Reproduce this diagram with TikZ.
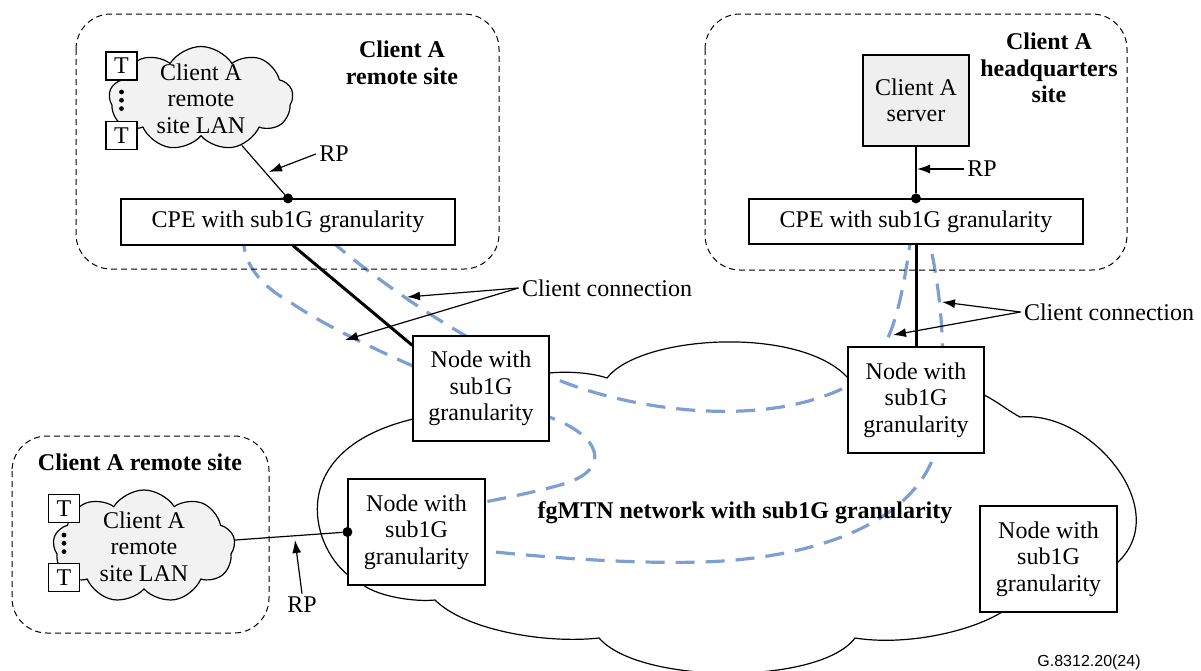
\documentclass[tikz,border=0pt]{standalone}
\usepackage{fontspec}
\setmainfont{Liberation Serif}
\newfontfamily\figidfont{Liberation Sans}
\usetikzlibrary{shapes.symbols,arrows.meta}
\definecolor{connblue}{RGB}{127,158,210}
\definecolor{langray}{RGB}{242,242,242}
\definecolor{servergray}{RGB}{239,239,239}
\newcommand\bodysize{\fontsize{24}{26.5}\selectfont}
\pgfdeclarelayer{background}
\pgfsetlayers{background,main}

\begin{document}
\begin{tikzpicture}[x=1pt,y=-1pt,
    every node/.style={font=\bodysize},
    box/.style={draw,fill=white,line width=1.2pt,align=center,inner sep=0pt},
    lan/.style={cloud,cloud puffs=9,cloud puff arc=115,cloud ignores aspect,draw,fill=langray,line width=1.2pt,inner sep=0pt},
    tbox/.style={draw,fill=white,line width=1.2pt,inner sep=0pt,minimum width=31pt,minimum height=28pt},
    rpdot/.style={circle,fill=black,inner sep=0pt,minimum size=10pt},
    sitetitle/.style={font=\bodysize\bfseries,align=center},
    siteframe/.style={draw,line width=1pt,dash pattern=on 6pt off 4pt,rounded corners=35pt},
    conn/.style={draw=connblue,line width=3.2pt,dash pattern=on 19pt off 11pt},
    pointer/.style={-{Latex[length=13pt,width=9pt]},line width=1.2pt},
    trunk/.style={line width=3pt}]
  \useasboundingbox (0,0) rectangle (1201,670);

  % sites
  \draw[siteframe] (76,14) rectangle (499,269);
  \draw[siteframe] (705,14) rectangle (1127,270);
  \draw[siteframe] (12,436) rectangle (269,633);
  \node[sitetitle] (ttl1) at (402,63) {Client A\\remote site};
  \node[sitetitle] (ttl2) at (1049,68) {Client A\\headquarters\\site};
  \node[sitetitle] (ttl3) at (140,462) {Client A remote site};

  % LANs with terminals
  \node[lan,minimum width=184pt,minimum height=104pt,
        label={[align=center]center:Client A\\remote\\site LAN}] (lan1) at (201,98.5) {};
  \node[tbox] (t1a) at (121.5,66) {T};
  \node[tbox] (t1b) at (121.5,135.5) {T};
  \foreach \y in {92,100.3,108.6} \fill (121.5,\y) circle (2.4);
  \node[lan,minimum width=182pt,minimum height=113pt,
        label={[align=center]center:Client A\\remote\\site LAN}] (lan2) at (144,546.5) {};
  \node[tbox] (t2a) at (64,508.5) {T};
  \node[tbox] (t2b) at (64,577.5) {T};
  \foreach \y in {535,543.3,551.6} \fill (64,\y) circle (2.4);

  % equipment
  \begin{scope}[every node/.style={box,font=\bodysize}]
  \node[minimum width=334pt,minimum height=46pt] (cpe1) at (288,222) {CPE with sub1G granularity};
  \node[minimum width=334pt,minimum height=45pt] (cpe2) at (916,221.5) {CPE with sub1G granularity};
  \node[fill=servergray,minimum width=106pt,minimum height=91pt] (server) at (916,100.5) {Client A\\server};
  \node[minimum width=136pt,minimum height=105pt] (n1) at (481,388.5) {Node with\\sub1G\\granularity};
  \node[minimum width=136pt,minimum height=106pt] (n2) at (916,400) {Node with\\sub1G\\granularity};
  \node[minimum width=137pt,minimum height=106pt] (n3) at (416.5,532) {Node with\\sub1G\\granularity};
  \node[minimum width=137pt,minimum height=106pt] (n4) at (1048.5,559) {Node with\\sub1G\\granularity};
  \end{scope}
  \node[rpdot] (d1) at (cpe1.north) {};
  \node[rpdot] (d2) at (cpe2.north) {};
  \node[rpdot] (d3) at (n3.west) {};

  \node[sitetitle] (net) at (745,513) {fgMTN network with sub1G granularity};
  \node[font=\figidfont\fontsize{16}{18}\selectfont] (figid) at (1089,662) {G.8312.20(24)};

  % links
  \begin{scope}[every edge/.style={draw=black,line width=1.2pt}]
  \path (lan1) edge (d1);
  \path (server) edge (d2);
  \path (lan2) edge (d3);
  \path ([xshift=5pt]cpe1.south) edge[trunk] ([yshift=-10pt]n1.north west);
  \path (cpe2) edge[trunk] (n2);
  \end{scope}

  % reference points
  \node (rp1) at (334,154) {RP};
  \node (rp2) at (982,169) {RP};
  \node (rp3) at (302,605) {RP};
  \coordinate (rp1tip) at (269,172);
  \coordinate (rp2tip) at (917,169);
  \coordinate (rp3tip) at (295,540);
  \draw[pointer] (rp1.west) -- (rp1tip);
  \draw[pointer] (rp2.west) -- (rp2tip);
  \draw[pointer] (rp3.north) -- (rp3tip);

  % client connections
  \node (cc1) at (607,288) {Client connection};
  \node (cc2) at (1109,312) {Client connection};
  \coordinate (cc1a) at (407,297);
  \coordinate (cc1b) at (345,340);
  \coordinate (cc2a) at (942,302);
  \coordinate (cc2b) at (893,335);
  \draw[pointer] (cc1.west) -- (cc1a);
  \draw[pointer] (cc1.west) -- (cc1b);
  \draw[pointer] (cc2.west) -- (cc2a);
  \draw[pointer] (cc2.west) -- (cc2b);

  \begin{pgfonlayer}{background}
  % fgMTN network cloud
  \draw[line width=1.2pt] (413,419) -- (549,373)
    .. controls (570,371) and (592,373) .. (607,378)
    .. controls (640,335) and (800,325) .. (848,378)
    -- (984,395)
    .. controls (995,400) and (1010,412) .. (1020,417)
    .. controls (1090,410) and (1175,510) .. (1117,563)
    -- (1002,612)
    .. controls (970,632) and (905,646) .. (855,638)
    .. controls (820,685) and (640,685) .. (599,638)
    .. controls (545,644) and (465,630) .. (435,600)
    .. controls (415,602) and (380,597) .. (363,585)
    -- (348,575)
    .. controls (310,545) and (285,450) .. (413,419) -- cycle;
  % client connection paths
  \draw[conn] (d1.center) .. controls (240,200) and (218,262) .. (290,302)
    .. controls (345,340) and (480,398) .. (549,417)
    .. controls (600,435) and (615,470) .. (560,485)
    .. controls (500,502) and (400,515) .. (d3.center);
  \draw[conn] (d1.center) .. controls (320,240) and (450,340) .. (549,376)
    .. controls (620,408) and (760,432) .. (850,385)
    .. controls (895,355) and (903,300) .. (d2.center);
  \draw[conn] (d3.center) .. controls (450,550) and (600,565) .. (703,562)
    .. controls (820,558) and (930,520) .. (940,430)
    .. controls (948,350) and (940,260) .. (d2.center);
  \end{pgfonlayer}
\end{tikzpicture}
\end{document}
